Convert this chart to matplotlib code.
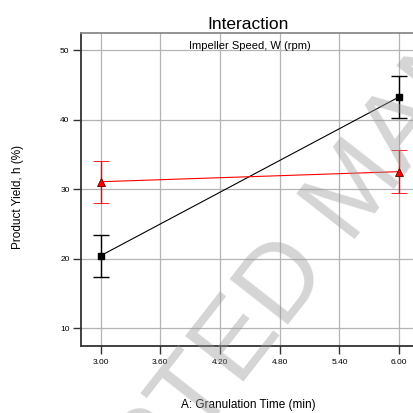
import numpy as np
import matplotlib
matplotlib.use('Agg')
import matplotlib.pyplot as plt
from matplotlib.font_manager import FontProperties

plt.rcParams['font.family'] = ['Liberation Sans', 'DejaVu Sans']

# ---- data ----
gran_time = [3.0, 6.0]                 # A: Granulation Time (min)
yield_low_speed = [20.4, 43.25]        # black squares
err_low_speed = [3.05, 3.05]
yield_high_speed = [31.05, 32.5]       # red triangles
err_high_speed = [3.05, 3.05]

xticks = [3.00, 3.60, 4.20, 4.80, 5.40, 6.00]
yticks = [10, 20, 30, 40, 50]

W, H = 414, 413
fig = plt.figure(figsize=(W / 100, H / 100), dpi=100)

# axes in pixel coordinates (left, top, right, bottom)
left, top, right, bottom = 80.7, 33.0, 419.0, 345.75
ax = fig.add_axes([left / W, 1 - bottom / H, (right - left) / W, (bottom - top) / H])
ax.set_xlim(2.8, 6.2)
ax.set_ylim(7.45, 52.45)
ax.set_axisbelow(True)
ax.grid(True, color='#b4b4b4', lw=0.9)

ax.set_xticks(xticks)
ax.set_xticklabels(['%.2f' % v for v in xticks])
ax.set_yticks(yticks)
ax.tick_params(axis='both', labelsize=6, length=5.5, width=1.0, color='#333333', direction='out')
ax.tick_params(axis='y', pad=2.5)
ax.tick_params(axis='x', pad=4)

for s in ['left', 'bottom']:
    ax.spines[s].set_color('#333333')
    ax.spines[s].set_linewidth(1.3)
ax.spines['top'].set_color('#8a8a8a')
ax.spines['top'].set_linewidth(1.3)
ax.spines['right'].set_visible(False)

ax.errorbar(gran_time, yield_low_speed, yerr=err_low_speed, color='black', lw=0.8,
            marker='s', ms=5, mfc='black', mec='black', capsize=6, elinewidth=1.0,
            capthick=1.0, zorder=3)
ax.errorbar(gran_time, yield_high_speed, yerr=err_high_speed, color='#ff0000', lw=0.8,
            marker='^', ms=6, mfc='#ff0000', mec='#600000', mew=0.6, capsize=6,
            elinewidth=1.0, capthick=1.0, ecolor='#ff0000', zorder=3)

ax.text(0.5, 0.958, 'Impeller Speed, W (rpm)', transform=ax.transAxes,
        ha='center', va='center', fontsize=8)

fig.text(248 / W, 1 - 29 / H, 'Interaction', ha='center', va='baseline', fontsize=12.5)
fig.text(18 / W, 1 - 197 / H, 'Product Yield, h (%)', rotation=90,
         ha='center', va='center', fontsize=8.5)
fig.text(248 / W, 1 - 405 / H, 'A: Granulation Time (min)', ha='center', va='center',
         fontsize=8.5)

# translucent watermark over everything;
# placed so the top-left corner of the "T" in ACCEPTED sits at (137, 393) px
wm = 'ACCEPTED MANUSCRIPT'
wm_size, wm_rot = 78, 52
fp = FontProperties(family='Liberation Sans', size=wm_size)
rend = fig.canvas.get_renderer()
def text_w(s):
    return rend.get_text_width_height_descent(s, fp, ismath=False)[0]
s_t = text_w('ACCEPT') - text_w('T')
cap = 0.716 * wm_size * 100 / 72
th = np.radians(wm_rot)
u = np.array([np.cos(th), -np.sin(th)])     # along baseline, screen coords
v = np.array([-np.sin(th), -np.cos(th)])    # text "up", screen coords
anchor = np.array([137.0, 393.0]) - s_t * u - cap * v
fig.text(anchor[0] / W, 1 - anchor[1] / H, wm, fontproperties=fp, color='#9a9a9a',
         alpha=0.42, rotation=wm_rot, rotation_mode='anchor', ha='left', va='baseline',
         zorder=10)

fig.savefig('out.png', dpi=100)
